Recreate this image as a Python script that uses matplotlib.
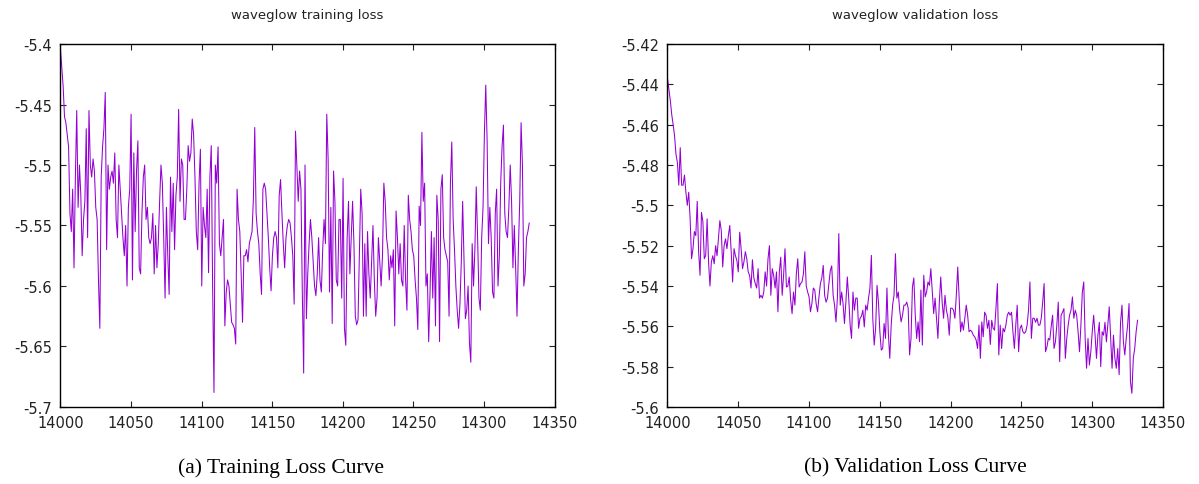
import matplotlib
matplotlib.use('Agg')
import matplotlib.pyplot as plt
import numpy as np

train_loss = [
    -5.404, -5.42, -5.435, -5.46, -5.465, -5.475, -5.485, -5.54, -5.555, -5.52,
    -5.585, -5.51, -5.455, -5.535, -5.50, -5.525, -5.575, -5.545, -5.53, -5.47,
    -5.56, -5.455, -5.50, -5.51, -5.495, -5.505, -5.535, -5.545, -5.595, -5.635,
    -5.51, -5.485, -5.47, -5.44, -5.57, -5.50, -5.52, -5.51, -5.505, -5.515,
    -5.49, -5.545, -5.56, -5.50, -5.52, -5.54, -5.56, -5.575, -5.55, -5.60,
    -5.535, -5.52, -5.458, -5.595, -5.49, -5.555, -5.505, -5.48,
    -5.585, -5.59, -5.54, -5.51, -5.50, -5.545, -5.535, -5.56, -5.565, -5.56,
    -5.54, -5.59, -5.55, -5.585, -5.565, -5.53, -5.50, -5.515, -5.56, -5.61,
    -5.535, -5.575, -5.607, -5.51, -5.555, -5.515, -5.57, -5.525, -5.51, -5.454,
    -5.53, -5.495, -5.50, -5.545, -5.545, -5.52, -5.484, -5.497, -5.49, -5.462,
    -5.475, -5.51, -5.555, -5.57, -5.515, -5.487, -5.60, -5.535, -5.55, -5.56,
    -5.52, -5.589, -5.51, -5.484, -5.60, -5.688, -5.50, -5.515,
    -5.485, -5.565, -5.575, -5.56, -5.545, -5.633, -5.605, -5.595, -5.60, -5.615,
    -5.63, -5.632, -5.635, -5.648, -5.52, -5.545, -5.555, -5.59, -5.63, -5.575,
    -5.575, -5.57, -5.58, -5.565, -5.56, -5.555, -5.528, -5.469, -5.54, -5.555,
    -5.565, -5.59, -5.607, -5.52, -5.515, -5.52, -5.54, -5.56, -5.585, -5.604,
    -5.575, -5.56, -5.555, -5.56, -5.585, -5.525, -5.512, -5.54, -5.565, -5.585,
    -5.56, -5.55, -5.545, -5.548, -5.56, -5.575, -5.615, -5.472,
    -5.50, -5.53, -5.505, -5.52, -5.605, -5.672, -5.50, -5.627, -5.59, -5.565,
    -5.545, -5.56, -5.58, -5.60, -5.608, -5.59, -5.56, -5.595, -5.605, -5.57,
    -5.545, -5.565, -5.458, -5.495, -5.605, -5.535, -5.631, -5.505, -5.53, -5.595,
    -5.60, -5.545, -5.545, -5.61, -5.511, -5.635, -5.649, -5.56, -5.53, -5.59,
    -5.56, -5.53, -5.565, -5.625, -5.632, -5.628, -5.575, -5.52, -5.54, -5.625,
    -5.565, -5.625, -5.555, -5.59, -5.61, -5.58, -5.55, -5.595,
    -5.625, -5.61, -5.56, -5.58, -5.60, -5.575, -5.515, -5.53, -5.56, -5.57,
    -5.595, -5.575, -5.585, -5.57, -5.633, -5.538, -5.56, -5.59, -5.565, -5.595,
    -5.60, -5.55, -5.595, -5.62, -5.525, -5.545, -5.555, -5.57, -5.575, -5.595,
    -5.61, -5.636, -5.534, -5.55, -5.473, -5.53, -5.515, -5.60, -5.59, -5.646,
    -5.605, -5.555, -5.61, -5.56, -5.633, -5.525, -5.545, -5.646, -5.52, -5.508,
    -5.56, -5.57, -5.575, -5.58, -5.625, -5.515, -5.481,
    -5.545, -5.57, -5.60, -5.62, -5.635, -5.615, -5.58, -5.53, -5.58, -5.627,
    -5.62, -5.60, -5.647, -5.663, -5.565, -5.60, -5.57, -5.518, -5.56, -5.61,
    -5.62, -5.56, -5.535, -5.474, -5.434, -5.48, -5.565, -5.535, -5.56, -5.605,
    -5.61, -5.54, -5.52, -5.60, -5.575, -5.515, -5.485, -5.467, -5.54, -5.555,
    -5.56, -5.535, -5.50, -5.53, -5.585, -5.55, -5.585, -5.625, -5.57, -5.53,
    -5.465, -5.50, -5.60, -5.59, -5.56, -5.555, -5.548,
]

val_loss = [
    -5.437, -5.4425, -5.448, -5.455, -5.46, -5.4656, -5.4746, -5.4788, -5.49, -5.4714,
    -5.49, -5.49, -5.485, -5.4935, -5.50, -5.4935, -5.5067, -5.5265, -5.5215, -5.513,
    -5.515, -5.498, -5.523, -5.5347, -5.5035, -5.508, -5.5265, -5.5248, -5.5067, -5.528,
    -5.54, -5.528, -5.525, -5.529, -5.52, -5.525, -5.5166, -5.5076, -5.5125, -5.5306,
    -5.52, -5.5166, -5.5215, -5.515, -5.51, -5.523, -5.538, -5.5215, -5.525, -5.5273,
    -5.533, -5.5133, -5.5215, -5.5314, -5.528,
    -5.523, -5.5265, -5.533, -5.5347, -5.541, -5.527, -5.536, -5.5388, -5.541, -5.5314,
    -5.546, -5.5446, -5.546, -5.543, -5.533, -5.54, -5.5265, -5.52, -5.5446, -5.5314,
    -5.5347, -5.541, -5.533, -5.5528, -5.533, -5.5257, -5.5446, -5.5347, -5.5215, -5.5405,
    -5.54, -5.5355, -5.547, -5.5537, -5.543, -5.5495, -5.534, -5.5265, -5.5405, -5.5388,
    -5.538, -5.534, -5.523, -5.54, -5.543, -5.5454, -5.5528, -5.5487, -5.541, -5.542,
    -5.5487, -5.5528, -5.5454, -5.5388, -5.536, -5.5298,
    -5.5446, -5.548, -5.546, -5.5388, -5.5323, -5.53, -5.5446, -5.5495, -5.5578, -5.546,
    -5.514, -5.5495, -5.543, -5.5487, -5.5586, -5.548, -5.5355, -5.546, -5.5594, -5.566,
    -5.543, -5.552, -5.546, -5.546, -5.561, -5.556, -5.555, -5.552, -5.5603, -5.5495,
    -5.552, -5.546, -5.541, -5.5248, -5.556, -5.5693, -5.561, -5.5397, -5.548, -5.5627,
    -5.5718, -5.571, -5.5586, -5.566, -5.541, -5.5635, -5.5759, -5.5594, -5.5495, -5.5446,
    -5.524, -5.546, -5.543, -5.552, -5.5578, -5.5545,
    -5.5495, -5.5495, -5.548, -5.551, -5.5742, -5.566, -5.5405, -5.536, -5.5545, -5.566,
    -5.5578, -5.5676, -5.542, -5.5693, -5.5347, -5.5454, -5.543, -5.538, -5.5397, -5.5314,
    -5.543, -5.5537, -5.546, -5.556, -5.566, -5.548, -5.5355, -5.548, -5.556, -5.5446,
    -5.552, -5.5553, -5.5644, -5.551, -5.551, -5.552, -5.556, -5.5446, -5.5306, -5.546,
    -5.5627, -5.5578, -5.5619, -5.556, -5.5495, -5.5545, -5.5627, -5.5619, -5.5627, -5.5644,
    -5.5652, -5.5668, -5.571, -5.5594, -5.5759, -5.5578, -5.5652,
    -5.553, -5.5545, -5.561, -5.557, -5.569, -5.557, -5.561, -5.5619, -5.551, -5.5388,
    -5.5742, -5.5594, -5.571, -5.561, -5.5627, -5.5594, -5.5545, -5.553, -5.5545, -5.553,
    -5.5627, -5.571, -5.5594, -5.5495, -5.5726, -5.561, -5.5594, -5.5627, -5.5635, -5.5627,
    -5.5594, -5.552, -5.538, -5.566, -5.556, -5.556, -5.558, -5.556, -5.5594, -5.5594,
    -5.556, -5.548, -5.5388, -5.5726, -5.5702, -5.566, -5.5668, -5.5602, -5.5545, -5.571,
    -5.5677, -5.5594, -5.548, -5.5775, -5.5545, -5.553, -5.5512,
    -5.5759, -5.566, -5.5594, -5.5545, -5.552, -5.5454, -5.556, -5.552, -5.5545, -5.5627,
    -5.5726, -5.5594, -5.543, -5.538, -5.566, -5.5808, -5.566, -5.5792, -5.5726, -5.5627,
    -5.5545, -5.5644, -5.5759, -5.5644, -5.558, -5.58, -5.5627, -5.5644, -5.558, -5.5677,
    -5.5594, -5.5503, -5.566, -5.5808, -5.5644, -5.5759, -5.5808, -5.571, -5.584, -5.558,
    -5.5495, -5.5677, -5.5742, -5.566, -5.5594, -5.5487, -5.5874, -5.5932, -5.5759, -5.571,
    -5.5627, -5.557,
]

first_iter = 14000
last_iter = 14332
x_ticks = [14000, 14050, 14100, 14150, 14200, 14250, 14300, 14350]
train_yticks = [-5.4, -5.45, -5.5, -5.55, -5.6, -5.65, -5.7]
val_yticks = [-5.42, -5.44, -5.46, -5.48, -5.5, -5.52, -5.54, -5.56, -5.58, -5.6]


def fmt(v):
    return ('%g' % v)


def draw_panel(ax, loss, title, yticks):
    iters = np.linspace(first_iter, last_iter, len(loss))
    ax.plot(iters, loss, color='#9400d3', linewidth=0.75)
    ax.set_xlim(x_ticks[0], x_ticks[-1])
    ax.set_ylim(yticks[-1], yticks[0])
    ax.set_xticks(x_ticks)
    ax.set_xticklabels([str(t) for t in x_ticks])
    ax.set_yticks(yticks)
    ax.set_yticklabels([fmt(t) for t in yticks])
    ax.tick_params(direction='in', length=4, width=0.8, top=True, right=True,
                   labelsize=10.5, colors='#222222', pad=6)
    for s in ax.spines.values():
        s.set_linewidth(1.0)
        s.set_color('black')
    ax.set_title(title, fontsize=9.5, pad=19, color='#222222')


fig = plt.figure(figsize=(11.99, 4.85), dpi=100)
ax1 = fig.add_axes([0.0504, 0.1588, 0.4122, 0.7484])
ax2 = fig.add_axes([0.5567, 0.1588, 0.4133, 0.7484])

draw_panel(ax1, train_loss, 'waveglow training loss', train_yticks)
draw_panel(ax2, val_loss, 'waveglow validation loss', val_yticks)

fig.text(0.2345, 0.035, '(a) Training Loss Curve', ha='center', va='center',
         family='Liberation Serif', fontsize=15.5)
fig.text(0.7633, 0.035, '(b) Validation Loss Curve', ha='center', va='center',
         family='Liberation Serif', fontsize=15.5)

fig.savefig('out.png', dpi=100)
